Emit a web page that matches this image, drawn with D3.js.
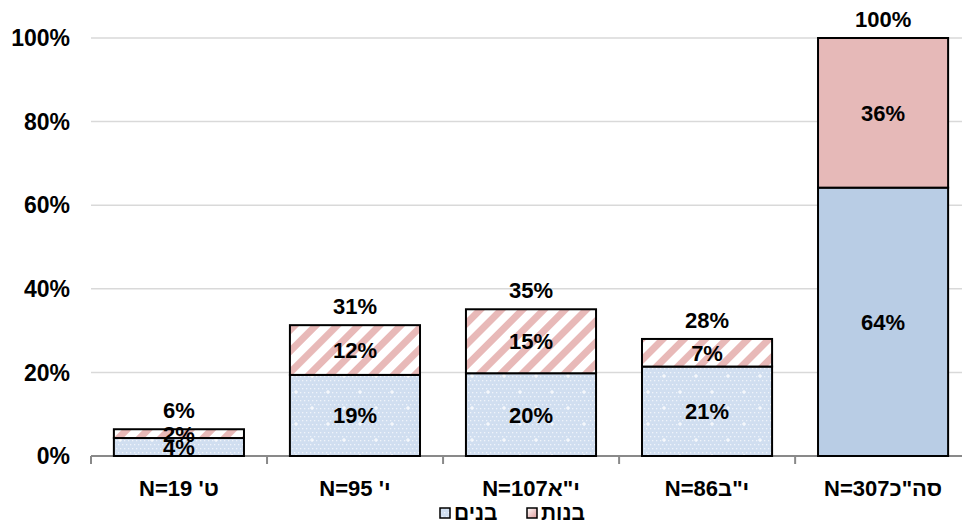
<!DOCTYPE html>
<html lang="he">
<head>
<meta charset="utf-8">
<title>Chart</title>
<script src="https://cdn.jsdelivr.net/npm/d3@7"></script>
<style>
body { margin: 0; background: #fff; }
svg text { font-family: "Liberation Sans", Arial, sans-serif; font-weight: bold; fill: #000; }
.grid line { stroke: #d9d9d9; stroke-width: 1.5; }
</style>
</head>
<body>
<svg id="chart" width="962" height="525"></svg>
<script>
// data
var categories = ["ט' N=19", "י' N=95", "י\"אN=107", "י\"בN=86", "סה\"כN=307"];
var boys  = [4.3, 19.4, 19.8, 21.4, 64.2];
var girls = [2.1, 11.9, 15.3, 6.6, 35.8];
var yTicks = [0, 20, 40, 60, 80, 100];
var legendNames = ["בנים", "בנות"];

var svg = d3.select("#chart");
var mLeft = 91, mRight = 971, mTop = 38, mBottom = 456;
var fs = 22;

var x = d3.scaleBand().domain(categories).range([mLeft, mRight]).paddingInner(0.261).paddingOuter(0.13);
var y = d3.scaleLinear().domain([0, 100]).range([mBottom, mTop]);

// patterns
var defs = svg.append("defs");
var dots = defs.append("pattern").attr("id", "dots").attr("patternUnits", "userSpaceOnUse")
  .attr("width", 32).attr("height", 32);
dots.append("rect").attr("width", 32).attr("height", 32).attr("fill", "#d0def0");
for (var i = 0; i < 32; i += 4) {
  for (var j = 0; j < 32; j += 4) {
    dots.append("rect").attr("x", i + ((j / 4) % 2) * 2).attr("y", j).attr("width", 1.3).attr("height", 1.3).attr("fill", "#f0f4fa");
  }
}
[[8, 8], [24, 24]].forEach(function(p) {
  dots.append("rect").attr("x", p[0] - 2).attr("y", p[1] - 0.5).attr("width", 4).attr("height", 1).attr("fill", "#fff");
  dots.append("rect").attr("x", p[0] - 0.5).attr("y", p[1] - 2).attr("width", 1).attr("height", 4).attr("fill", "#fff");
});

var stripes = defs.append("pattern").attr("id", "stripes").attr("patternUnits", "userSpaceOnUse")
  .attr("width", 15).attr("height", 15).attr("patternTransform", "rotate(45)");
stripes.append("rect").attr("width", 15).attr("height", 15).attr("fill", "#fff");
stripes.append("rect").attr("width", 7).attr("height", 15).attr("fill", "#e8b9b8");

var legendGrad = defs.append("linearGradient").attr("id", "lgPink").attr("x1", 0).attr("y1", 0).attr("x2", 1).attr("y2", 1);
legendGrad.append("stop").attr("offset", "0%").attr("stop-color", "#fff");
legendGrad.append("stop").attr("offset", "100%").attr("stop-color", "#e09a99");

// gridlines
svg.append("g").attr("class", "grid")
  .selectAll("line").data(yTicks.slice(1)).enter().append("line")
  .attr("x1", mLeft).attr("x2", 962)
  .attr("y1", function(d) { return y(d); }).attr("y2", function(d) { return y(d); });

// y labels
svg.append("g").selectAll("text").data(yTicks).enter().append("text")
  .attr("x", 70).attr("y", function(d) { return y(d); })
  .attr("dy", "0.36em").attr("text-anchor", "end").attr("font-size", 23)
  .text(function(d) { return d + "%"; });

// x axis line and ticks at band boundaries
var xa = svg.append("g");
xa.append("line").attr("x1", mLeft).attr("x2", 962).attr("y1", mBottom).attr("y2", mBottom)
  .attr("stroke", "#898989").attr("stroke-width", 2);
var step = x.step();
xa.selectAll(".tk").data(categories.concat(["end"])).enter().append("line")
  .attr("x1", function(d, i) { return mLeft + i * step; })
  .attr("x2", function(d, i) { return mLeft + i * step; })
  .attr("y1", mBottom).attr("y2", mBottom + 8)
  .attr("stroke", "#898989").attr("stroke-width", 2);

xa.selectAll("text").data(categories).enter().append("text")
  .attr("x", function(d) { return x(d) + x.bandwidth() / 2; })
  .attr("y", 488).attr("dy", "0.36em").attr("text-anchor", "middle").attr("direction", "rtl")
  .attr("font-size", fs)
  .text(function(d) { return d; });

// bars
var last = categories.length - 1;
var g = svg.append("g");
categories.forEach(function(c, i) {
  var b = boys[i], gi = girls[i];
  g.append("rect").attr("x", x(c)).attr("width", x.bandwidth())
    .attr("y", y(b)).attr("height", y(0) - y(b))
    .attr("fill", i === last ? "#b9cde5" : "url(#dots)")
    .attr("stroke", "#000").attr("stroke-width", 2);
  g.append("rect").attr("x", x(c)).attr("width", x.bandwidth())
    .attr("y", y(b + gi)).attr("height", y(b) - y(b + gi))
    .attr("fill", i === last ? "#e6b9b8" : "url(#stripes)")
    .attr("stroke", "#000").attr("stroke-width", 2);

  var cx = x(c) + x.bandwidth() / 2;
  g.append("text").attr("x", cx).attr("y", y(b / 2)).attr("dy", "0.36em")
    .attr("text-anchor", "middle").attr("font-size", fs).text(Math.round(b) + "%");
  g.append("text").attr("x", cx).attr("y", y(b + gi / 2)).attr("dy", "0.36em")
    .attr("text-anchor", "middle").attr("font-size", fs).text(Math.round(gi) + "%");
  g.append("text").attr("x", cx).attr("y", y(b + gi) - 19).attr("dy", "0.36em")
    .attr("text-anchor", "middle").attr("font-size", fs).text(Math.round(b + gi) + "%");
});

// legend
var legend = svg.append("g");
var lx = [440, 527];
legendNames.forEach(function(n, i) {
  legend.append("rect").attr("x", lx[i]).attr("y", 508).attr("width", 10).attr("height", 10)
    .attr("fill", i === 0 ? "url(#dots)" : "url(#lgPink)").attr("stroke", "#000").attr("stroke-width", 1.5);
  legend.append("text").attr("x", lx[i] + 14).attr("y", 513).attr("dy", "0.34em")
    .attr("font-size", 21).attr("direction", "rtl").attr("text-anchor", "end")
    .text(n);
});
</script>
</body>
</html>
